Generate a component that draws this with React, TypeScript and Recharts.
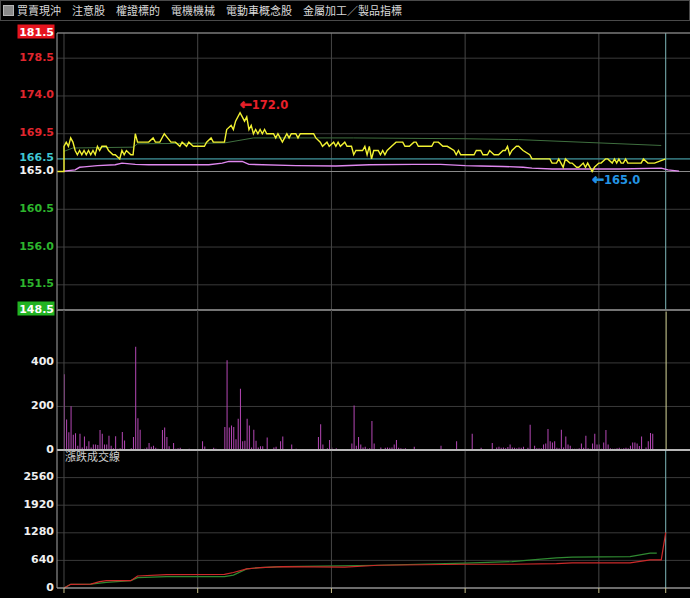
import {
  ComposedChart, Line, Bar, Cell, XAxis, YAxis, CartesianGrid, ReferenceLine, ReferenceDot
} from 'recharts';

const menuItems = ['買賣現沖', '注意股', '權證標的', '電機機械', '電動車概念股', '金屬加工／製品指標'];
const panelTitle = '漲跌成交線';

// minutes after 09:00
const timeTicks = [0, 60, 120, 180, 240];
const closeMinute = 270;
const xDomain = [-3.14, 280.9];

const priceTicks = [148.5, 151.5, 156.0, 160.5, 165.0, 166.5, 169.5, 174.0, 178.5, 181.5];
const prevClose = 165.0;
const lastPrice = 166.5;
const highPoint = { m: 79, p: 172.0 };
const lowPoint = { m: 237, p: 165.0 };

// [minute, price]
const priceLine: [number, number][] = [
  [-3, 165], [0, 165], [0, 168], [1, 168.5], [2, 168], [3, 169], [4, 168.5], [5, 167.5], [6, 167],
  [7, 167.5], [8, 167], [9, 167.5], [10, 167], [11, 167.5], [12, 167], [13, 167.5], [14, 167],
  [15, 168], [16, 167.5], [17, 168], [19, 168], [20, 167.5], [22, 167], [23, 167], [25, 166.5],
  [26, 167.5], [27, 167], [28, 167.5], [30, 167], [31, 167], [32, 169.5], [33, 168.5], [38, 168.5],
  [40, 169], [41, 168.5], [43, 168.5], [45, 169.5], [48, 168.5], [50, 168.5], [52, 168], [53, 168.5],
  [55, 168], [56, 168.5], [58, 168], [63, 168], [64, 168.5], [66, 169], [67, 168.5], [72, 168.5],
  [73, 170], [75, 170.5], [76, 170], [77, 171], [79, 172], [80, 171.5], [81, 171], [82, 171.5],
  [83, 170], [84, 170.5], [85, 169.5], [86, 170], [87, 169.5], [88, 170], [89, 169.5], [90, 170],
  [91, 169.5], [94, 169.5], [95, 169], [96, 169.5], [97, 169], [98, 168.5], [99, 169], [100, 169.5],
  [101, 169], [102, 169.5], [104, 169.5], [105, 169], [106, 169.5], [112, 169.5], [113, 169],
  [115, 168.5], [116, 168], [118, 168.5], [119, 168], [121, 168.5], [122, 168], [123, 168.5],
  [124, 168], [126, 168.5], [127, 168], [129, 168], [130, 167], [131, 167.5], [134, 167.5],
  [135, 168], [136, 167], [137, 168], [138, 166.5], [139, 167.5], [141, 167.5], [142, 167],
  [143, 167.5], [144, 167], [145, 167.5], [147, 168], [149, 168.5], [152, 168.5], [153, 168],
  [155, 168], [157, 168.5], [158, 168.5], [159, 168], [165, 168], [166, 168.5], [168, 168.5],
  [170, 168], [172, 168], [175, 167.5], [176, 167], [177, 167.5], [178, 167], [184, 167],
  [185, 167.5], [187, 167.5], [188, 167], [190, 167], [191, 167.5], [193, 167], [195, 167],
  [197, 167.5], [198, 167.5], [199, 168], [200, 167], [201, 167.5], [203, 168], [204, 168],
  [206, 167.5], [209, 167], [210, 166.5], [218, 166.5], [219, 166], [221, 166], [222, 166.5],
  [223, 166], [224, 165.5], [225, 166.5], [227, 166], [228, 166], [230, 165.5], [231, 165.5],
  [233, 166], [234, 165.5], [235, 166], [236, 165.5], [237, 165], [238, 165.5], [240, 166],
  [241, 166], [243, 166.5], [244, 166.5], [246, 166], [247, 166.5], [248, 166], [249, 166.5],
  [250, 166], [251, 166], [252, 166.5], [253, 166], [259, 166], [260, 166.5], [262, 166],
  [265, 166], [270, 166.5],
];

// average price
const avgLine: [number, number][] = [
  [0, 165.05], [5, 165.2], [7, 165.5], [9, 165.55], [15, 165.7], [23, 165.8], [26, 166.0],
  [32, 165.85], [38, 165.8], [65, 165.8], [71, 166.0], [74, 166.2], [80, 166.2], [83, 165.85],
  [104, 165.7], [122, 165.65], [137, 165.8], [157, 165.85], [169, 165.85], [180, 165.7],
  [187, 165.65], [197, 165.6], [206, 165.5], [210, 165.4], [219, 165.3], [249, 165.3],
  [268, 165.4], [271, 165.2], [276, 165.05],
];

// green reference line
const refLine: [number, number][] = [
  [0, 167.4], [4, 167.8], [31, 167.9], [33, 168.3], [72, 168.4], [85, 169.0], [130, 169.0],
  [180, 168.9], [204, 168.8], [268, 168.1],
];

// volume per minute, minute 0..270
const volumes: number[] = [
  348, 140, 81, 201, 70, 77, 20, 75, 12, 62,
  17, 40, 12, 25, 25, 23, 92, 75, 25, 25,
  66, 20, 8, 63, 6, 8, 83, 44, 5, 4,
  8, 60, 474, 146, 93, 4, 6, 12, 32, 15,
  20, 10, 6, 3, 92, 103, 60, 17, 4, 32,
  6, 8, 10, 4, 3, 2, 6, 5, 4, 3,
  2, 5, 40, 16, 2, 3, 4, 10, 6, 3,
  4, 2, 106, 412, 103, 113, 106, 49, 143, 281,
  40, 43, 143, 113, 12, 93, 43, 12, 17, 17,
  5, 57, 4, 3, 12, 15, 5, 40, 62, 4,
  5, 3, 25, 4, 6, 3, 2, 3, 2, 4,
  2, 3, 2, 4, 60, 118, 25, 5, 8, 46,
  12, 5, 8, 5, 4, 3, 3, 5, 4, 30,
  204, 20, 60, 25, 12, 15, 6, 8, 133, 30,
  4, 5, 12, 5, 10, 12, 10, 12, 25, 46,
  10, 8, 6, 8, 3, 2, 4, 15, 2, 0,
  0, 0, 0, 0, 0, 0, 0, 0, 0, 20,
  0, 0, 0, 0, 0, 0, 40, 0, 0, 0,
  0, 0, 0, 75, 0, 0, 0, 10, 0, 0,
  0, 0, 32, 0, 12, 15, 10, 12, 8, 14,
  25, 12, 10, 8, 12, 10, 15, 0, 10, 116,
  0, 20, 8, 8, 8, 25, 30, 96, 40, 35,
  40, 10, 8, 93, 12, 62, 25, 20, 6, 6,
  6, 8, 30, 10, 66, 8, 6, 30, 75, 25,
  25, 6, 35, 92, 25, 8, 6, 6, 8, 10,
  6, 8, 10, 8, 20, 35, 35, 30, 18, 62,
  5, 12, 40, 78, 75, 0, 0, 0, 0, 0,
  636,
];
const volTicks = [0, 200, 400];

const cumTicks = [0, 640, 1280, 1920, 2560];
const cumUp: [number, number][] = [
  [0, 0], [3, 86], [12, 90], [16, 147], [19, 170], [30, 170], [33, 279], [46, 310], [72, 318],
  [76, 360], [82, 442], [88, 473], [98, 496], [126, 485], [141, 528], [180, 551], [201, 551],
  [221, 567], [228, 582], [254, 582], [263, 651], [268, 651], [270, 1287],
];
const cumDown: [number, number][] = [
  [0, 0], [3, 86], [12, 90], [19, 130], [30, 170], [33, 240], [46, 262], [72, 265], [76, 300],
  [82, 442], [88, 473], [98, 496], [141, 528], [180, 575], [201, 612], [210, 651], [221, 698],
  [228, 714], [254, 729], [263, 807], [266, 807],
];

const toPts = (arr: [number, number][]) => arr.map(([m, v]) => ({ m, v }));
const volData = volumes.map((v, m) => ({ m, v }));

const FONT = '"DejaVu Sans", Verdana, sans-serif';
const GRID = '#3a3a3a';
const VGRID = '#474747';
const CURSOR = '#7fb8ba';

function priceColor(v: number) {
  if (v === lastPrice) return '#3fc6d2';
  if (v > prevClose) return '#e0262e';
  if (v < prevClose) return '#2db52d';
  return '#f2f2f2';
}

function PriceTick({ x, y, payload }: any) {
  const v = payload.value as number;
  const boxed = v === priceTicks[0] || v === priceTicks[priceTicks.length - 1];
  return (
    <g>
      {boxed && (
        <rect x={x - 36.5} y={y - 8.5} width={37} height={14} fill={v > prevClose ? '#e5141e' : '#22b322'} />
      )}
      <text x={x} y={y} dy={2.5} textAnchor="end" fontFamily={FONT} fontSize={11} fontWeight="bold"
        fill={boxed ? '#ffffff' : priceColor(v)}>
        {v.toFixed(1)}
      </text>
    </g>
  );
}

function WhiteTick({ x, y, payload }: any) {
  return (
    <text x={x} y={y} dy={2.5} textAnchor="end" fontFamily={FONT} fontSize={11} fontWeight="bold" fill="#f0f0f0">
      {payload.value}
    </text>
  );
}

const NoTick = () => <g />;

function ArrowText({ x, y, color, value }: { x: number; y: number; color: string; value: number }) {
  return (
    <text x={x} y={y} fontFamily={FONT} fontWeight="bold" fill={color}>
      <tspan fontSize={14} stroke={color} strokeWidth={0.9}>{'\u2190'}</tspan>
      <tspan fontSize={11.5}>{value.toFixed(1)}</tspan>
    </text>
  );
}

const HighMark = ({ cx, cy }: any) => <ArrowText x={cx} y={cy - 4} color="#e8202a" value={highPoint.p} />;
const LowMark = ({ cx, cy }: any) => <ArrowText x={cx} y={cy + 12} color="#2394e4" value={lowPoint.p} />;

const verticals = () => [
  ...timeTicks.map((t) => <ReferenceLine key={'v' + t} x={t} stroke={VGRID} />),
  <ReferenceLine key="cur" x={closeMinute} stroke={CURSOR} />,
];

export default function App() {
  return (
    <div style={{ position: 'absolute', left: 0, top: 0, width: 690, height: 598, background: '#000', overflow: 'hidden' }}>
      {/* top bar */}
      <div style={{
        position: 'absolute', left: 0, top: 0, width: 688, height: 19, border: '1px solid #4a4a4a',
        display: 'flex', alignItems: 'center', color: '#dadada', fontSize: 11,
        fontFamily: '"Noto Sans CJK TC", sans-serif', whiteSpace: 'nowrap',
      }}>
        <div style={{ width: 11, height: 11, marginLeft: 2, marginRight: 3, background: '#8a8a8a', border: '1px solid #b5b5b5', boxSizing: 'border-box' }} />
        {menuItems.map((t) => (
          <span key={t} style={{ marginRight: 11, lineHeight: '19px' }}>{t}</span>
        ))}
      </div>

      {/* price panel */}
      <div style={{ position: 'absolute', left: 0, top: 23 }}>
        <ComposedChart width={690} height={297} margin={{ top: 10, right: 0, bottom: 10, left: 0 }}>
          <CartesianGrid stroke={GRID} vertical={false} />
          <XAxis type="number" dataKey="m" domain={xDomain} allowDataOverflow hide ticks={timeTicks} />
          <YAxis type="number" domain={[148.5, 181.5]} ticks={priceTicks} interval={0} width={57}
            axisLine={{ stroke: '#a8a8a8' }} tickLine={false} tickSize={0} tickMargin={3} tick={<PriceTick />} />
          {verticals()}
          <ReferenceLine y={181.5} stroke="#9a9a9a" />
          <ReferenceLine y={prevClose} stroke="#8a8a8a" />
          <ReferenceLine y={lastPrice} stroke="#3aa3ad" />
          <ReferenceLine y={148.5} stroke="#e0e0e0" strokeWidth={1.5} />
          <Line data={toPts(refLine)} dataKey="v" type="linear" stroke="#3f6f3f" strokeWidth={1} dot={false} isAnimationActive={false} />
          <Line data={toPts(avgLine)} dataKey="v" type="linear" stroke="#e088f0" strokeWidth={1.4} dot={false} isAnimationActive={false} />
          <Line data={toPts(priceLine)} dataKey="v" type="linear" stroke="#f2f232" strokeWidth={1.4} dot={false} isAnimationActive={false} />
          <ReferenceDot x={highPoint.m} y={highPoint.p} r={0} shape={<HighMark />} />
          <ReferenceDot x={lowPoint.m} y={lowPoint.p} r={0} shape={<LowMark />} />
        </ComposedChart>
      </div>

      {/* volume panel */}
      <div style={{ position: 'absolute', left: 0, top: 300 }}>
        <ComposedChart width={690} height={160} margin={{ top: 10, right: 0, bottom: 10, left: 0 }} data={volData}>
          <CartesianGrid stroke={GRID} vertical={false} />
          <XAxis type="number" dataKey="m" domain={xDomain} allowDataOverflow hide ticks={timeTicks} />
          <YAxis type="number" domain={[0, 643]} ticks={volTicks} interval={0} width={57}
            axisLine={{ stroke: '#a8a8a8' }} tickLine={false} tickSize={0} tickMargin={3} tick={<WhiteTick />} />
          {timeTicks.map((t) => <ReferenceLine key={'v' + t} x={t} stroke={VGRID} />)}
          <ReferenceLine y={0} stroke="#d0d0d0" strokeWidth={1.5} />
          <Bar dataKey="v" barSize={1} isAnimationActive={false}>
            {volData.map((d) => (
              <Cell key={d.m} fill={d.m === closeMinute ? '#d8d89a' : '#b547b5'} />
            ))}
          </Bar>
        </ComposedChart>
      </div>

      {/* cumulative panel */}
      <div style={{ position: 'absolute', left: 0, top: 440 }}>
        <ComposedChart width={690} height={158} margin={{ top: 10, right: 0, bottom: 0, left: 0 }}>
          <CartesianGrid stroke={GRID} vertical={false} />
          <XAxis type="number" dataKey="m" domain={xDomain} allowDataOverflow ticks={[...timeTicks, closeMinute]}
            height={10} interval={0} axisLine={{ stroke: '#bdbdbd' }} tickLine={{ stroke: '#c8c08a' }} tickSize={5} tick={<NoTick />} />
          <YAxis type="number" domain={[0, 3200]} ticks={cumTicks} interval={0} width={57}
            axisLine={{ stroke: '#a8a8a8' }} tickLine={false} tickSize={0} tickMargin={3} tick={<WhiteTick />} />
          {verticals()}
          <ReferenceLine y={3200} stroke="#d0d0d0" strokeWidth={1.5} />
          <Line data={toPts(cumDown)} dataKey="v" type="linear" stroke="#2f8a32" strokeWidth={1.2} dot={false} isAnimationActive={false} />
          <Line data={toPts(cumUp)} dataKey="v" type="linear" stroke="#cc2a2a" strokeWidth={1.2} dot={false} isAnimationActive={false} />
        </ComposedChart>
      </div>

      <div style={{
        position: 'absolute', left: 65, top: 450, color: '#cfcfcf', fontSize: 11,
        fontFamily: '"Noto Sans CJK TC", sans-serif', lineHeight: '13px',
      }}>
        {panelTitle}
      </div>
    </div>
  );
}
